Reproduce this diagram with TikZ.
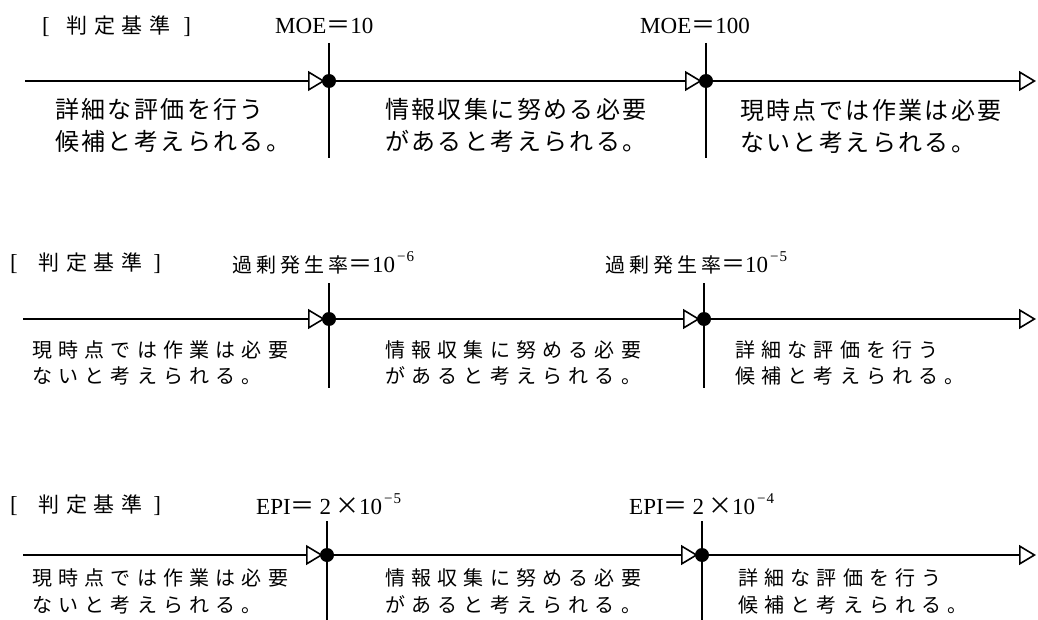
\documentclass[tikz,border=0pt]{standalone}
\usepackage{fontspec}
\setmainfont{Liberation Serif}
\newfontfamily\cjkA[LetterSpace=10]{Noto Sans CJK JP}
\newfontfamily\cjkB[LetterSpace=31]{Noto Sans CJK JP}
\newfontfamily\cjkL[LetterSpace=20]{Noto Sans CJK JP}
\newfontfamily\cjkN{Noto Sans CJK JP}
\usetikzlibrary{arrows.meta}
\newcommand\jhead[1]{{\cjkB\fontsize{21}{26}\selectfont #1}}
\newcommand\jlab[1]{{\cjkL\fontsize{20}{26}\selectfont #1}}
\newcommand\jsym[1]{{\cjkN\fontsize{24}{26}\selectfont #1}}
\newcommand\sups[1]{\hspace{2pt}\raisebox{0.48em}{\fontsize{15}{15}\selectfont #1}}
\tikzset{
  axis/.style={line width=1.6pt},
  arrowline/.style={-{Triangle[open,length=17pt,width=20pt,line width=1.6pt]}},
  midarrow/.style={arrowline,shorten >=4pt},
  dotmark/.style={circle,fill=black,inner sep=0pt,minimum size=14pt},
  descA/.style={anchor=west,align=left,inner sep=0pt,font=\cjkA\fontsize{24}{32}\selectfont},
  descB/.style={anchor=west,align=left,inner sep=0pt,font=\cjkB\fontsize{20}{26}\selectfont},
  descC/.style={anchor=west,align=left,inner sep=0pt,font=\cjkB\fontsize{20}{27}\selectfont},
  lab/.style={anchor=west,inner sep=0pt,font=\fontsize{23}{26}\selectfont},
}
\begin{document}
\begin{tikzpicture}[x=1pt,y=-1pt]
\useasboundingbox (0,0) rectangle (1038,620);

% ---------- panel 1 ----------
\coordinate (s1) at (25,81);
\coordinate (d1a) at (329,81);
\coordinate (d1b) at (706,81);
\coordinate (e1) at (1036,81);
\coordinate (d1at) at (329,43);
\coordinate (d1ab) at (329,158);
\coordinate (d1bt) at (706,43);
\coordinate (d1bb) at (706,158);
\draw[axis,midarrow] (s1) -- (d1a);
\draw[axis,midarrow] (d1a) -- (d1b);
\draw[axis,arrowline] (d1b) -- (e1);
\draw[axis] (d1at) -- (d1ab);
\draw[axis] (d1bt) -- (d1bb);
\node[dotmark] (p1a) at (d1a) {};
\node[dotmark] (p1b) at (d1b) {};
\node[lab] (h1) at (42,26) {[\hspace{17pt}\jhead{判定基準}\hspace{13pt}]};
\node[lab] (m1a) at (275,26) {MOE\jsym{＝}10};
\node[lab] (m1b) at (640,26) {MOE\jsym{＝}100};
\node[descA] (t1a) at (55,125) {詳細な評価を行う\\候補と考えられる。};
\node[descA] (t1b) at (385,125) {情報収集に努める必要\\があると考えられる。};
\node[descA] (t1c) at (740,126) {現時点では作業は必要\\ないと考えられる。};

% ---------- panel 2 ----------
\coordinate (s2) at (23,319);
\coordinate (d2a) at (329,319);
\coordinate (d2b) at (704,319);
\coordinate (e2) at (1036,319);
\coordinate (d2at) at (329,283);
\coordinate (d2ab) at (329,388);
\coordinate (d2bt) at (704,283);
\coordinate (d2bb) at (704,388);
\draw[axis,midarrow] (s2) -- (d2a);
\draw[axis,midarrow] (d2a) -- (d2b);
\draw[axis,arrowline] (d2b) -- (e2);
\draw[axis] (d2at) -- (d2ab);
\draw[axis] (d2bt) -- (d2bb);
\node[dotmark] (p2a) at (d2a) {};
\node[dotmark] (p2b) at (d2b) {};
\node[lab] (h2) at (10,263) {[\hspace{21pt}\jhead{判定基準}\hspace{11pt}]};
\node[lab] (m2a) at (232,263) {\jlab{過剰発生率}\jsym{＝}10\sups{−\hspace{1pt}6}};
\node[lab] (m2b) at (605,263) {\jlab{過剰発生率}\jsym{＝}10\sups{−\hspace{1pt}5}};
\node[descB] (t2a) at (32,363) {現時点では作業は必要\\ないと考えられる。};
\node[descB] (t2b) at (385,363) {情報収集に努める必要\\があると考えられる。};
\node[descB] (t2c) at (735,363) {詳細な評価を行う\\候補と考えられる。};

% ---------- panel 3 ----------
\coordinate (s3) at (23,555);
\coordinate (d3a) at (327,555);
\coordinate (d3b) at (702,555);
\coordinate (e3) at (1036,555);
\coordinate (d3at) at (327,521);
\coordinate (d3ab) at (327,620);
\coordinate (d3bt) at (702,521);
\coordinate (d3bb) at (702,620);
\draw[axis,midarrow] (s3) -- (d3a);
\draw[axis,midarrow] (d3a) -- (d3b);
\draw[axis,arrowline] (d3b) -- (e3);
\draw[axis] (d3at) -- (d3ab);
\draw[axis] (d3bt) -- (d3bb);
\node[dotmark] (p3a) at (d3a) {};
\node[dotmark] (p3b) at (d3b) {};
\node[lab] (h3) at (10,505) {[\hspace{21pt}\jhead{判定基準}\hspace{11pt}]};
\node[lab] (m3a) at (256,504) {EPI\jsym{＝}\hspace{5pt}2\hspace{4pt}\jsym{×}10\sups{−\hspace{1pt}5}};
\node[lab] (m3b) at (629,504) {EPI\jsym{＝}\hspace{5pt}2\hspace{4pt}\jsym{×}10\sups{−\hspace{1pt}4}};
\node[descC] (t3a) at (32,591) {現時点では作業は必要\\ないと考えられる。};
\node[descC] (t3b) at (385,591) {情報収集に努める必要\\があると考えられる。};
\node[descC] (t3c) at (738,591) {詳細な評価を行う\\候補と考えられる。};
\end{tikzpicture}
\end{document}
